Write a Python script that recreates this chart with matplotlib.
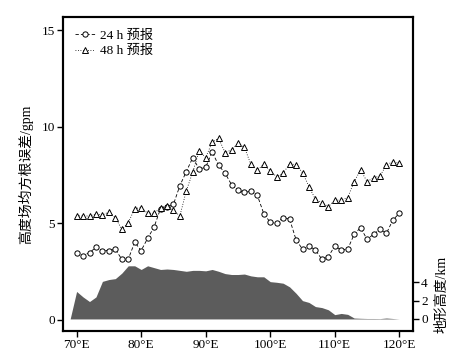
import matplotlib.pyplot as plt
import numpy as np

# fonts: serif latin + CJK fallback
fam = ['Liberation Serif', 'Noto Sans CJK SC']
plt.rcParams['font.family'] = fam
plt.rcParams['axes.unicode_minus'] = False

# data
lon = list(range(70, 121))
rmse_24h = [3.45, 3.33, 3.48, 3.76, 3.59, 3.59, 3.66, 3.14, 3.14, 4.02,
            3.59, 4.22, 4.8, 5.76, 5.86, 5.98, 6.95, 7.68, 8.4, 7.8,
            7.9, 8.7, 8.0, 7.6, 7.0, 6.72, 6.6, 6.66, 6.45, 5.5,
            5.05, 5.0, 5.3, 5.22, 4.15, 3.66, 3.83, 3.62, 3.14, 3.27,
            3.83, 3.62, 3.66, 4.43, 4.78, 4.17, 4.43, 4.69, 4.48, 5.17,
            5.52]
rmse_48h = [5.38, 5.38, 5.38, 5.48, 5.43, 5.59, 5.29, 4.69, 5.03, 5.76,
            5.81, 5.52, 5.52, 5.8, 5.92, 5.67, 5.38, 6.69, 7.65, 8.76,
            8.4, 9.2, 9.4, 8.66, 8.8, 9.14, 8.93, 8.05, 7.76, 8.05,
            7.71, 7.41, 7.59, 8.08, 8.03, 7.62, 6.9, 6.24, 6.07, 5.86,
            6.2, 6.2, 6.33, 7.16, 7.76, 7.16, 7.35, 7.45, 8.02, 8.19,
            8.1]
terrain_lon = list(range(69, 121))
terrain_km = [0.0, 3.0, 2.4, 1.9, 2.4, 4.1, 4.3, 4.4, 5.0, 5.8,
              5.8, 5.4, 5.8, 5.6, 5.4, 5.45, 5.4, 5.3, 5.2, 5.3,
              5.3, 5.25, 5.4, 5.2, 4.95, 4.85, 4.85, 4.9, 4.7, 4.6,
              4.6, 4.07, 4.0, 3.9, 3.5, 2.8, 2.0, 1.8, 1.35, 1.24,
              1.0, 0.47, 0.6, 0.5, 0.1, 0.07, 0.05, 0.05, 0.04, 0.1,
              0.05, 0.0]

fig = plt.figure(figsize=(4.66, 3.57), dpi=100)
ax = fig.add_axes([0.136, 0.074, 0.750, 0.877])
ax2 = ax.twinx()

# terrain on right axis
ax2.fill_between(terrain_lon, 0, terrain_km, color='#5c5c5c', lw=0)
ax2.set_ylim(-1.27, 32.9)
ax2.set_yticks([0, 2, 4])
ax2.set_ylabel('地形高度/km', fontsize=10)
ax2.yaxis.set_label_coords(1.065, 0.117)

# forecast errors on left axis
ax.set_zorder(ax2.get_zorder() + 1)
ax.patch.set_visible(False)
ax.plot(lon, rmse_24h, color='black', lw=0.6, ls=(0, (4, 2.5)),
        marker='o', ms=3.8, mfc='white', mec='black', mew=0.7,
        label='24 h 预报')
ax.plot(lon, rmse_48h, color='black', lw=0.6, ls=(0, (1, 2)),
        marker='^', ms=4.8, mfc='white', mec='black', mew=0.7,
        label='48 h 预报')

ax.set_xlim(67.95, 122.1)
ax.set_ylim(-0.55, 15.65)
ax.set_xticks(range(70, 121, 10))
ax.set_xticklabels(['%d°E' % v for v in range(70, 121, 10)])
ax.set_yticks([0, 5, 10, 15])
ax.set_ylabel('高度场均方根误差/gpm', fontsize=10, labelpad=6)

for a in (ax, ax2):
    for s in a.spines.values():
        s.set_linewidth(1.5)
    a.tick_params(direction='out', length=4, width=1.0, labelsize=9.5, pad=2)

ax.legend(loc='upper left', frameon=False, fontsize=9.5, handlelength=1.5,
          handletextpad=0.4, labelspacing=0.25, borderaxespad=0.5)

fig.savefig('out.png', dpi=100)
